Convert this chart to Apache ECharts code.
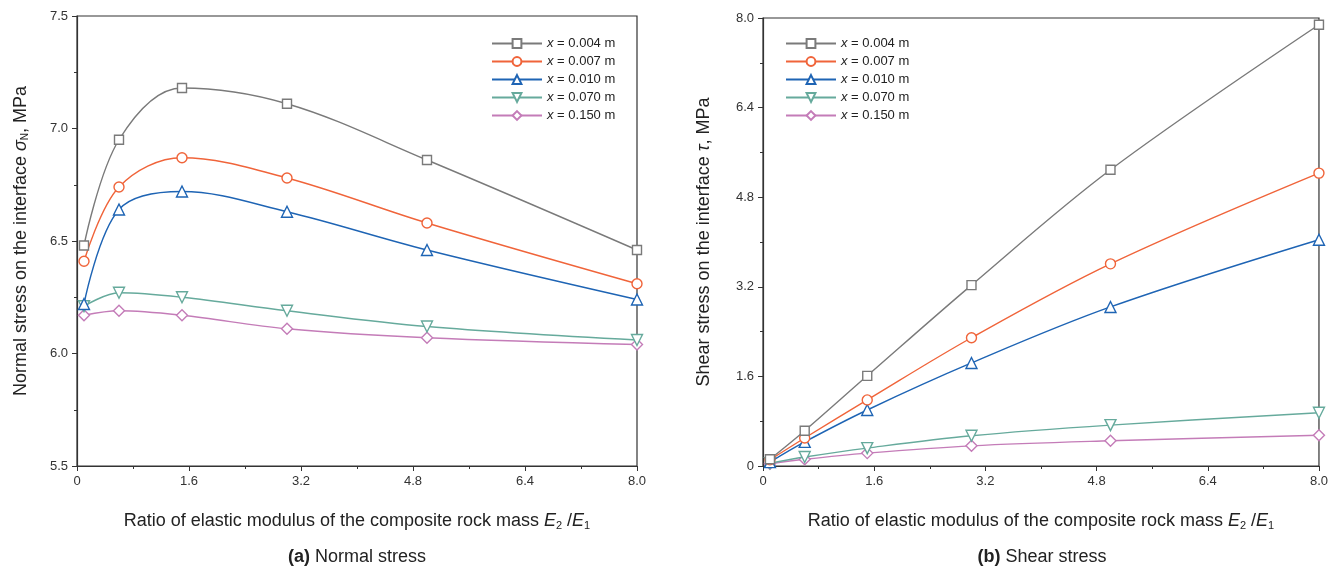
<!DOCTYPE html>
<html><head><meta charset="utf-8">
<script src="https://cdn.jsdelivr.net/npm/echarts@6/dist/echarts.min.js"></script>
<style>html,body{margin:0;padding:0;background:#fff}#c{width:1331px;height:568px}</style>
</head><body><div id="c"></div>
<script>
// ---- data ----
const ratios = [0.1, 0.6, 1.5, 3.0, 5.0, 8.0];
const seriesNames = ['x = 0.004 m', 'x = 0.007 m', 'x = 0.010 m', 'x = 0.070 m', 'x = 0.150 m'];
// (a) normal stress, MPa
const normal004 = [6.48, 6.95, 7.18, 7.11, 6.86, 6.46];
const normal007 = [6.41, 6.74, 6.87, 6.78, 6.58, 6.31];
const normal010 = [6.22, 6.64, 6.72, 6.63, 6.46, 6.24];
const normal070 = [6.21, 6.27, 6.25, 6.19, 6.12, 6.06];
const normal150 = [6.17, 6.19, 6.17, 6.11, 6.07, 6.04];
// (b) shear stress, MPa
const shear004 = [0.12, 0.63, 1.61, 3.23, 5.29, 7.88];
const shear007 = [0.11, 0.50, 1.18, 2.29, 3.61, 5.23];
const shear010 = [0.07, 0.43, 1.00, 1.84, 2.84, 4.04];
const shear070 = [0.05, 0.16, 0.32, 0.54, 0.73, 0.95];
const shear150 = [0.04, 0.12, 0.23, 0.36, 0.45, 0.55];
const xTicks = [0, 1.6, 3.2, 4.8, 6.4, 8.0];

// ---- styling ----
const FONT = "'Liberation Sans', Arial, sans-serif";
const colors = ['#7a7a7a', '#f0643a', '#1e64b4', '#66aa9c', '#c47cb8'];
const symbols = ['rect', 'circle', 'triangle', 'triangle', 'diamond'];
const symRot = [0, 0, 0, 180, 0];
const symSize = [9, 10, 11, 11, 11];

function pairs(vals) { return ratios.map((r, i) => [r, vals[i]]); }

function makeSeries(dataArr, gi) {
  return dataArr.map((vals, k) => ({
    type: 'line', name: seriesNames[k], xAxisIndex: gi, yAxisIndex: gi,
    data: pairs(vals), smooth: 0.35,
    symbol: symbols[k], symbolRotate: symRot[k], symbolSize: symSize[k],
    showAllSymbol: true,
    lineStyle: { color: colors[k], width: 1.4 },
    itemStyle: { color: '#fff', borderColor: colors[k], borderWidth: 1.4 },
    emphasis: { disabled: true }, z: 10 - k
  }));
}

const axisCommon = {
  axisLine: { show: true, onZero: false, lineStyle: { color: '#333', width: 1.2 } },
  axisTick: { show: true, inside: false, length: 5, lineStyle: { color: '#333' } },
  minorTick: { show: true, splitNumber: 2, length: 3, lineStyle: { color: '#333' } },
  splitLine: { show: false },
  axisLabel: { color: '#333', fontSize: 13, fontFamily: FONT, margin: 9 }
};

function xAxis(gi) {
  return Object.assign({}, axisCommon, {
    type: 'value', gridIndex: gi, min: 0, max: 8, interval: 1.6,
    axisLabel: Object.assign({}, axisCommon.axisLabel, { formatter: v => v === 0 ? '0' : v.toFixed(1), showMaxLabel: true }),
    name: 'Ratio of elastic modulus of the composite rock mass {e|E}{s|2} /{e|E}{s|1}',
    nameLocation: 'middle', nameGap: 45,
    nameTextStyle: {
      color: '#222', fontSize: 18, fontFamily: FONT,
      rich: {
        e: { fontStyle: 'italic', fontSize: 18, fontFamily: FONT, color: '#222' },
        s: { fontSize: 11, fontFamily: FONT, color: '#222', padding: [9, 0, 0, 0] }
      }
    }
  });
}

const option = {
  animation: false,
  backgroundColor: '#fff',
  textStyle: { fontFamily: FONT },
  grid: [
    { left: 77, top: 16, width: 560, height: 450, show: true, borderColor: '#333', borderWidth: 1.2, backgroundColor: 'transparent' },
    { left: 763, top: 18, width: 558, height: 448, show: true, borderColor: '#333', borderWidth: 1.2, backgroundColor: 'transparent' }
  ],
  xAxis: [xAxis(0), xAxis(1)],
  yAxis: [
    Object.assign({}, axisCommon, {
      type: 'value', gridIndex: 0, min: 5.5, max: 7.5, interval: 0.5,
      axisLabel: Object.assign({}, axisCommon.axisLabel, { formatter: v => v.toFixed(1) }),
      name: 'Normal stress on the interface {g|σ}{s|N}, MPa',
      nameLocation: 'middle', nameGap: 47, nameRotate: 90,
      nameTextStyle: {
        color: '#222', fontSize: 18, fontFamily: FONT,
        rich: {
          g: { fontStyle: 'italic', fontSize: 18, fontFamily: FONT, color: '#222' },
          s: { fontSize: 10, fontFamily: FONT, color: '#222', padding: [8, 0, 0, 0] }
        }
      }
    }),
    Object.assign({}, axisCommon, {
      type: 'value', gridIndex: 1, min: 0, max: 8, interval: 1.6,
      axisLabel: Object.assign({}, axisCommon.axisLabel, { formatter: v => v === 0 ? '0' : v.toFixed(1) }),
      name: 'Shear stress on the interface {g|τ}, MPa',
      nameLocation: 'middle', nameGap: 50, nameRotate: 90,
      nameTextStyle: {
        color: '#222', fontSize: 18, fontFamily: FONT,
        rich: { g: { fontStyle: 'italic', fontSize: 18, fontFamily: FONT, color: '#222' } }
      }
    })
  ],
  legend: [0, 1].map(gi => ({
    data: seriesNames, orient: 'vertical',
    left: gi === 0 ? 491 : 785, top: 37, padding: 0,
    itemWidth: 50, itemHeight: 11, itemGap: 5,
    selectedMode: false,
    formatter: n => '{i|x} = ' + n.slice(4),
    textStyle: {
      color: '#222', fontSize: 13, fontFamily: FONT, lineHeight: 12, padding: [0, 0, 0, 0],
      rich: { i: { fontStyle: 'italic', fontSize: 13, fontFamily: FONT, color: '#222', lineHeight: 12 } }
    }
  })),
  title: [
    { text: '{b|(a)} Normal stress', left: 357, top: 548, textAlign: 'center', padding: 0,
      textStyle: { fontSize: 18, fontWeight: 'normal', color: '#222', fontFamily: FONT,
        rich: { b: { fontWeight: 'bold', fontSize: 18, fontFamily: FONT, color: '#222' } } } },
    { text: '{b|(b)} Shear stress', left: 1042, top: 548, textAlign: 'center', padding: 0,
      textStyle: { fontSize: 18, fontWeight: 'normal', color: '#222', fontFamily: FONT,
        rich: { b: { fontWeight: 'bold', fontSize: 18, fontFamily: FONT, color: '#222' } } } }
  ],
  series: [].concat(
    makeSeries([normal004, normal007, normal010, normal070, normal150], 0),
    makeSeries([shear004, shear007, shear010, shear070, shear150], 1)
  )
};

const chart = echarts.init(document.getElementById('c'), null, { renderer: 'canvas' });
chart.setOption(option);
</script>
</body></html>
